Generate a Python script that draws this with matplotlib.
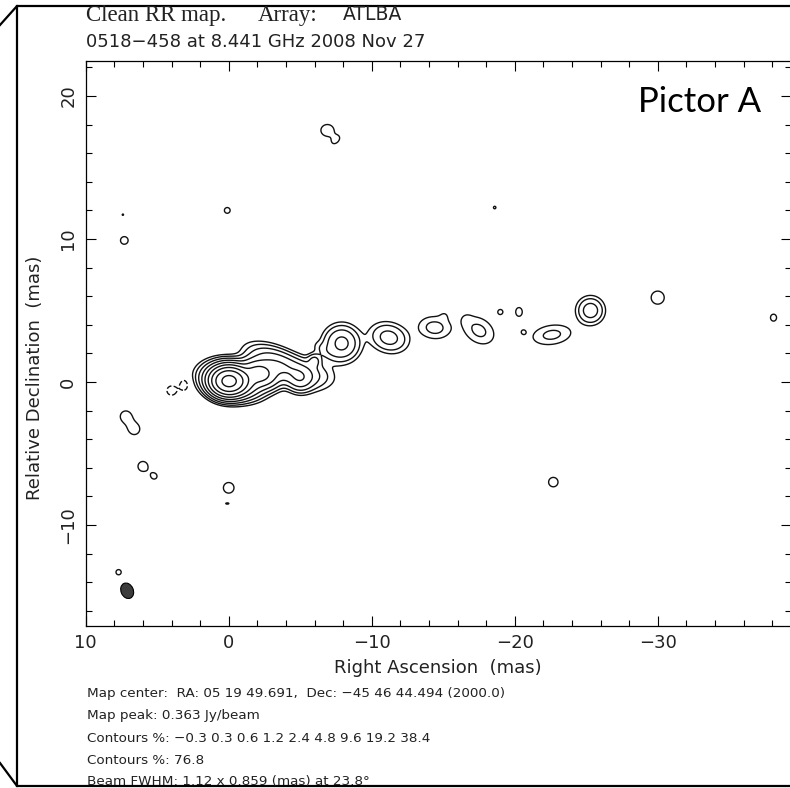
import numpy as np
import matplotlib
matplotlib.use("Agg")
import matplotlib.pyplot as plt
from matplotlib.patches import Ellipse
from matplotlib.lines import Line2D

# ---------------- data ----------------
# Gaussian model components: RA offset (mas), Dec offset (mas), peak (% of map peak),
# sigma along major/minor (mas), orientation (deg, CCW from +RA axis in data coords)
comp_ra   = [0.0, -0.3, -2.2, -3.5, -5.0, -6.0, -5.2, -6.7, -7.9, -11.2, -14.4, -15.1,
             -17.5, -16.6, -19.0, -20.3, -20.6, -22.6, -25.3, -30.0, -38.1,
             -6.9, -7.5, -18.6, 0.1, 7.3, 7.4, 7.2, 6.6, 6.0, 5.2, 0.0, 0.1, -22.7, 7.7,
             4.0, 3.1]
comp_dec  = [0.05, 0.1, 0.6, 1.2, 0.2, 1.5, 0.6, 2.2, 2.7, 3.1, 3.8, 4.7,
             3.6, 4.4, 4.9, 4.9, 3.5, 3.3, 5.0, 5.9, 4.5,
             17.6, 16.9, 12.2, 12.0, 9.9, 11.7, -2.4, -3.3, -5.9, -6.6, -7.4, -8.5, -7.0, -13.3,
             -0.6, -0.2]
comp_amp  = [85, 18, 12, 4.5, 2.6, 1.3, 1.6, 0.45, 2.95, 1.6, 0.78, 0.2,
             0.72, 0.2, 0.35, 0.40, 0.32, 0.72, 1.77, 0.5, 0.36,
             0.45, 0.34, 0.33, 0.34, 0.4, 0.31, 0.42, 0.42, 0.4, 0.35, 0.42, 0.31, 0.42, 0.36,
             -0.45, -0.45]
comp_smaj = [0.62, 1.0, 0.7, 1.2, 0.5, 0.3, 1.2, 0.6, 0.7, 0.8, 0.8, 0.3,
             0.85, 0.3, 0.3, 0.4, 0.2, 1.0, 0.56, 0.45, 0.4,
             0.5, 0.4, 0.2, 0.4, 0.35, 0.2, 0.45, 0.45, 0.45, 0.3, 0.45, 0.25, 0.4, 0.3,
             0.35, 0.4]
comp_smin = [0.5, 0.6, 0.5, 0.55, 0.5, 0.3, 0.6, 0.3, 0.7, 0.6, 0.55, 0.3,
             0.62, 0.3, 0.3, 0.3, 0.2, 0.5, 0.56, 0.45, 0.35,
             0.45, 0.25, 0.2, 0.4, 0.35, 0.2, 0.45, 0.45, 0.45, 0.3, 0.45, 0.1, 0.4, 0.3,
             0.35, 0.3]
comp_pa   = [0, 10, 20, 25, 0, 0, 10, 30, 0, 15, 5, 0,
             35, 0, 0, 90, 0, -8, 0, 90, 90,
             0, -45, 0, 0, 0, 0, 0, 0, 0, 0, 0, 0, 0, 0,
             0, 90]

contour_levels = [-0.3, 0.3, 0.6, 1.2, 2.4, 4.8, 9.6, 19.2, 38.4, 76.8]

beam_ra, beam_dec = 7.1, -14.6
beam_major, beam_minor, beam_pa = 1.12, 0.859, 23.8

x_ticks = [10, 0, -10, -20, -30]
y_ticks = [-10, 0, 10, 20]

title1a = "Clean RR map."
title1b = "Array:"
title1c = "ATLBA"
title2 = "0518\u2212458 at 8.441 GHz 2008 Nov 27"
footer = ["Map center:  RA: 05 19 49.691,  Dec: \u221245 46 44.494 (2000.0)",
          "Map peak: 0.363 Jy/beam",
          "Contours %: \u22120.3 0.3 0.6 1.2 2.4 4.8 9.6 19.2 38.4",
          "Contours %: 76.8",
          "Beam FWHM: 1.12 x 0.859 (mas) at 23.8\u00b0"]
source_name = "Pictor A"

# ---------------- figure ----------------
W, H = 790, 788
fig = plt.figure(figsize=(W / 100, H / 100), dpi=100)
fig.patch.set_facecolor("white")

def fx(px):
    return px / W

def fy(py):
    return 1 - py / H

ax_l, ax_r, ax_t, ax_b = 85.7, 791.0, 61.0, 626.0
ax = fig.add_axes([fx(ax_l), fy(ax_b), (ax_r - ax_l) / W, (ax_b - ax_t) / H])
scale = 14.3
xlim = (10, 10 - (ax_r - ax_l) / scale)
ylim = (-(ax_b - 382) / scale, (382 - ax_t) / scale)

xs = np.arange(xlim[1] - 0.5, xlim[0] + 0.5, 0.04)
ys = np.arange(ylim[0] - 0.5, ylim[1] + 0.5, 0.04)
X, Y = np.meshgrid(xs, ys)
Z = np.zeros_like(X)
for ra, de, a, s1, s2, pa in zip(comp_ra, comp_dec, comp_amp, comp_smaj, comp_smin, comp_pa):
    t = np.deg2rad(pa)
    dx, dy = X - ra, Y - de
    u = dx * np.cos(t) + dy * np.sin(t)
    v = -dx * np.sin(t) + dy * np.cos(t)
    Z += a * np.exp(-0.5 * ((u / s1) ** 2 + (v / s2) ** 2))

ax.contour(X, Y, Z, levels=contour_levels, colors="#111111", linewidths=1.0,
           negative_linestyles="dashed")

# beam
bt = np.deg2rad(beam_pa)
ang = np.rad2deg(np.arctan2(np.cos(bt), np.sin(bt)))
ax.add_patch(Ellipse((beam_ra, beam_dec), beam_major, beam_minor, angle=ang,
                     facecolor="#3c3c3c", edgecolor="black", lw=0.8))

ax.set_xlim(*xlim)
ax.set_ylim(*ylim)
ax.set_xticks(x_ticks)
ax.set_xticklabels([str(v).replace("-", "\u2212") for v in x_ticks])
ax.set_yticks(y_ticks)
ax.set_yticklabels([str(v).replace("-", "\u2212") for v in y_ticks], rotation=90, va="center")
ax.set_xticks(np.arange(-38, 11, 2), minor=True)
ax.set_yticks(np.arange(-16, 23, 2), minor=True)
ax.tick_params(which="both", direction="in", top=True, right=True, width=0.8, color="black")
ax.tick_params(which="major", length=7.5, labelsize=13, labelcolor="#222222")
ax.tick_params(which="minor", length=4)
ax.tick_params(axis="x", pad=6)
ax.tick_params(axis="y", pad=6)
for s in ax.spines.values():
    s.set_linewidth(0.9)

ax.set_xlabel("Right Ascension  (mas)", fontsize=13, color="#222222")
ax.set_ylabel("Relative Declination  (mas)", fontsize=13, color="#222222")
ax.xaxis.set_label_coords(0.4995, (ax_b - 659) / (ax_b - ax_t))
ax.yaxis.set_label_coords((44 - ax_l) / (ax_r - ax_l), (ax_b - 378) / (ax_b - ax_t))

ax.text(10 - (700 - ax_l) / scale, (382 - 102) / scale, source_name, fontsize=25,
        family="Lato", ha="center", va="center", color="black")

# titles
fig.text(fx(86), fy(15), title1a, fontsize=16.5, family="Liberation Serif",
         ha="left", va="center", color="#222222")
fig.text(fx(258), fy(15), title1b, fontsize=16.5, family="Liberation Serif",
         ha="left", va="center", color="#222222")
fig.text(fx(343), fy(15), title1c, fontsize=13.5, family="DejaVu Sans",
         ha="left", va="center", color="#222222")
fig.text(fx(86), fy(42), title2, fontsize=13, family="DejaVu Sans",
         ha="left", va="center", color="#222222")

# footer
for i, line in enumerate(footer):
    fig.text(fx(87), fy(694 + 22 * i), line, fontsize=9.7, family="DejaVu Sans",
             ha="left", va="center", color="#222222")

# page frame
frame_lw = 1.6
fig.add_artist(Line2D([fx(0), fx(17), fx(790)], [fy(25), fy(6), fy(6)],
                      color="black", lw=frame_lw))
fig.add_artist(Line2D([fx(17), fx(17)], [fy(6), fy(786)], color="black", lw=frame_lw))
fig.add_artist(Line2D([fx(0), fx(17), fx(790)], [fy(763), fy(786), fy(786)],
                      color="black", lw=frame_lw))

fig.savefig("out.png", dpi=100, facecolor="white")
